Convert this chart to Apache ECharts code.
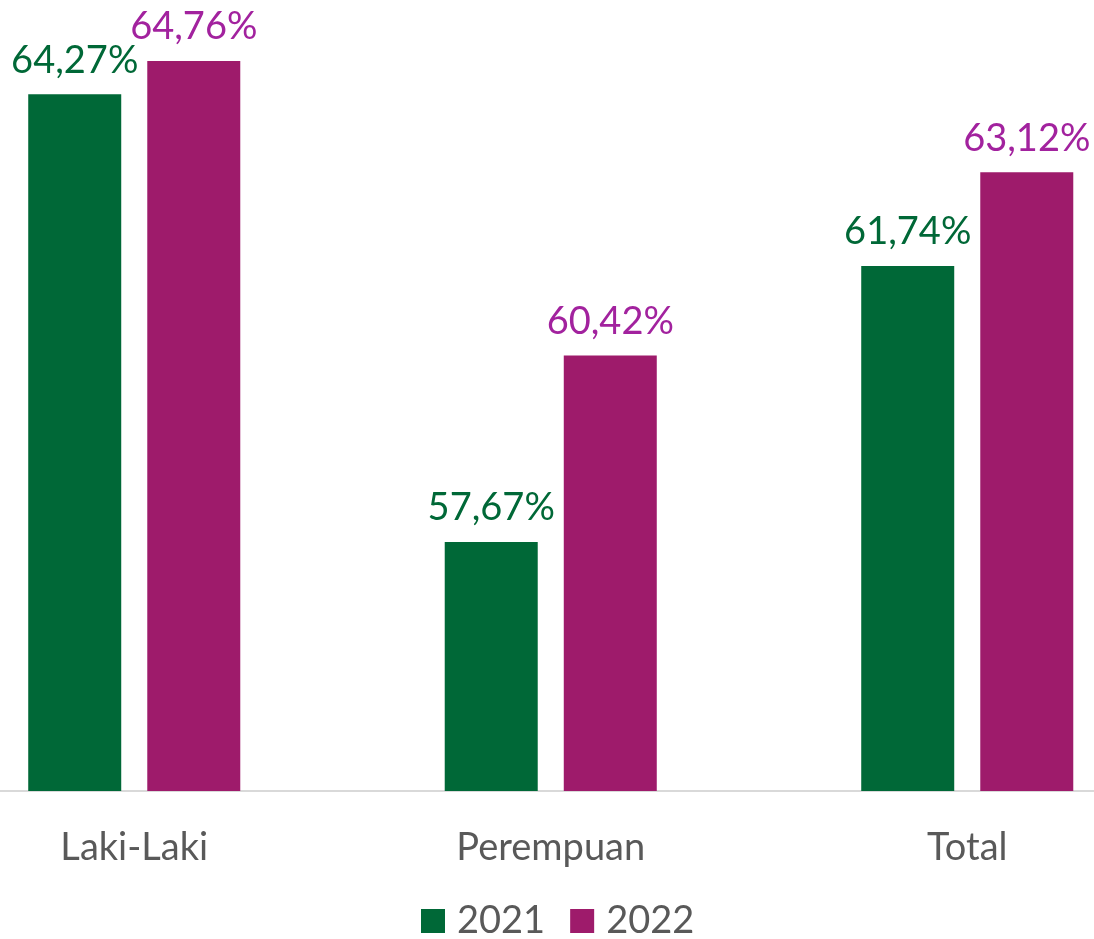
<!DOCTYPE html>
<html><head><meta charset="utf-8">
<script src="https://cdn.jsdelivr.net/npm/echarts@6/dist/echarts.min.js"></script>
<style>html,body{margin:0;padding:0;background:#fff}#c{width:1094px;height:939px}</style>
</head><body><div id="c"></div>
<script>
const categories = ['Laki-Laki', 'Perempuan', 'Total'];
const seriesNames = ['2021', '2022'];
const values2021 = [64.27, 57.67, 61.74];
const values2022 = [64.76, 60.42, 63.12];

const green = '#006837', purple = '#9E1B6B', purpleText = '#A2229E';
const fmt = p => p.value.toFixed(2).replace('.', ',') + '%';
const font = 'Lato';

const chart = echarts.init(document.getElementById('c'));
chart.setOption({
  animation: false,
  textStyle: { fontFamily: font },
  grid: { left: -74, width: 1249.5, top: 44.8, bottom: 148, containLabel: false, outerBoundsMode: 'none' },
  legend: {
    data: seriesNames, bottom: -1, left: 421, padding: 0, itemWidth: 24, itemHeight: 24, itemGap: 25,
    icon: 'rect',
    textStyle: { fontFamily: font, fontSize: 38, color: '#595959', padding: [0, 0, 0, 7] }
  },
  xAxis: {
    type: 'category', data: categories,
    axisLine: { lineStyle: { color: '#D9D9D9', width: 2 } },
    axisTick: { show: false },
    axisLabel: { fontFamily: font, fontSize: 38, color: '#595959', margin: 38 }
  },
  yAxis: { type: 'value', min: 54, max: 65, show: false, splitLine: { show: false } },
  series: [
    { name: seriesNames[0], type: 'bar', data: values2021, barWidth: 93, barGap: '28%',
      itemStyle: { color: green },
      label: { show: true, position: 'top', distance: 15, formatter: fmt, fontFamily: font, fontSize: 38, color: green } },
    { name: seriesNames[1], type: 'bar', data: values2022, barWidth: 93,
      itemStyle: { color: purple },
      label: { show: true, position: 'top', distance: 15, formatter: fmt, fontFamily: font, fontSize: 38, color: purpleText } }
  ]
});
</script></body></html>
